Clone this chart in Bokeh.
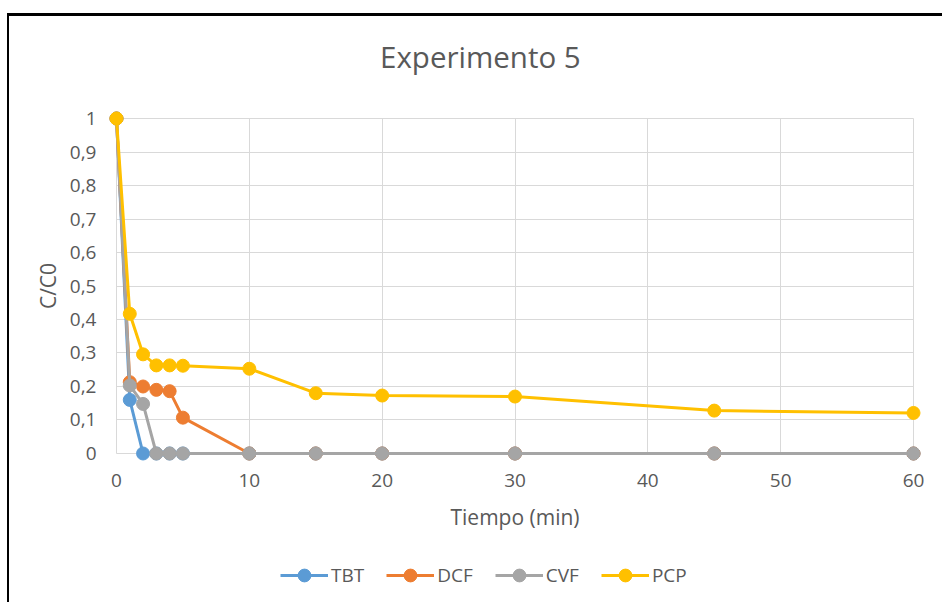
from bokeh.plotting import figure
from bokeh.models import Range1d, FixedTicker, Legend, LegendItem, Div
from bokeh.layouts import column
from bokeh.embed import file_html
from bokeh.resources import INLINE

# ---- data ----
tiempo = [0, 1, 2, 3, 4, 5, 10, 15, 20, 30, 45, 60]
tbt = [1, 0.16, 0, 0, 0, 0, 0, 0, 0, 0, 0, 0]
dcf = [1, 0.213, 0.20, 0.19, 0.186, 0.107, 0, 0, 0, 0, 0, 0]
cvf = [1, 0.203, 0.148, 0, 0, 0, 0, 0, 0, 0, 0, 0]
pcp = [1, 0.417, 0.296, 0.263, 0.263, 0.262, 0.253, 0.18, 0.173, 0.17, 0.128, 0.121]

series_names = ["TBT", "DCF", "CVF", "PCP"]
series_values = [tbt, dcf, cvf, pcp]
series_colors = ["#5B9BD5", "#ED7D31", "#A5A5A5", "#FFC000"]

x_ticks = [0, 10, 20, 30, 40, 50, 60]
x_tick_labels = ["0", "10", "20", "30", "40", "50", "60"]
y_ticks = [0, 0.1, 0.2, 0.3, 0.4, 0.5, 0.6, 0.7, 0.8, 0.9, 1.0]
y_tick_labels = ["0", "0,1", "0,2", "0,3", "0,4", "0,5", "0,6", "0,7", "0,8", "0,9", "1"]

title_text = "Experimento 5"
FONT = "Open Sans"
TXT = "#595959"
GRID = "#D9D9D9"

# ---- title ----
title_div = Div(
    text=('<div style="position:relative; left:371px; top:26px; white-space:nowrap; '
          'font-family:\'Open Sans\'; font-size:29.5px; line-height:1; color:%s;">%s</div>'
          % (TXT, title_text)),
    width=933, height=60, margin=(0, 0, 0, 0),
)

# ---- main plot ----
p = figure(
    width=933, height=470,
    x_range=Range1d(-0.602, 60.602), y_range=Range1d(-0.0239, 1.0239),
    output_backend="svg", toolbar_location=None,
    min_border_left=99, min_border_right=21, min_border_top=34, min_border_bottom=85,
)
p.outline_line_color = None
p.background_fill_color = "white"
p.border_fill_color = "white"

p.xaxis.ticker = FixedTicker(ticks=x_ticks)
p.yaxis.ticker = FixedTicker(ticks=y_ticks)
p.xaxis.major_label_overrides = {t: l for t, l in zip(x_ticks, x_tick_labels)}
p.yaxis.major_label_overrides = {t: l for t, l in zip(y_ticks, y_tick_labels)}
for ax in (p.xaxis, p.yaxis):
    ax.axis_line_color = None
    ax.major_tick_line_color = None
    ax.minor_tick_line_color = None
    ax.major_label_text_font = FONT
    ax.major_label_text_font_size = "19px"
    ax.major_label_text_color = TXT
    ax.axis_label_text_font = FONT
    ax.axis_label_text_font_size = "21px"
    ax.axis_label_text_font_style = "normal"
    ax.axis_label_text_color = TXT
p.xaxis.axis_label = "Tiempo (min)"
p.yaxis.axis_label = "C/C0"
p.xaxis.major_label_standoff = 6
p.yaxis.major_label_standoff = 6
p.xaxis.axis_label_standoff = 13
p.yaxis.axis_label_standoff = 5

p.xgrid.ticker = FixedTicker(ticks=x_ticks)
p.ygrid.ticker = FixedTicker(ticks=y_ticks)
p.xgrid.grid_line_color = GRID
p.ygrid.grid_line_color = GRID
p.xgrid.grid_line_width = 1
p.ygrid.grid_line_width = 1
p.xgrid.cross_bounds = (0, 1)
p.ygrid.cross_bounds = (0, 60)

for name, vals, col in zip(series_names, series_values, series_colors):
    p.line(tiempo, vals, line_color=col, line_width=3)
    p.scatter(tiempo, vals, size=13, fill_color=col, line_color=col)

# ---- legend strip (its renderers hold the series but lie outside its view) ----
pl = figure(
    width=933, height=56,
    x_range=Range1d(-3, -2), y_range=Range1d(0, 1),
    x_axis_type=None, y_axis_type=None,
    output_backend="svg", toolbar_location=None, min_border=0,
)
pl.outline_line_color = None
pl.border_fill_color = "white"
pl.background_fill_color = "white"
pl.grid.visible = False

items = []
for name, vals, col in zip(series_names, series_values, series_colors):
    lr = pl.line(tiempo, vals, line_color=col, line_width=3)
    sr = pl.scatter(tiempo, vals, size=13, fill_color=col, line_color=col)
    items.append(LegendItem(label=name, renderers=[lr, sr]))

legend = Legend(items=items, orientation="horizontal", location=(172, 11))
legend.label_text_font = FONT
legend.label_text_font_size = "19px"
legend.label_text_color = TXT
legend.glyph_width = 48
legend.glyph_height = 32
legend.label_standoff = 3
legend.spacing = 22
legend.border_line_color = None
legend.background_fill_alpha = 0
legend.margin = 0
legend.padding = 2
pl.add_layout(legend)

layout = column(title_div, p, pl, spacing=0)
layout.styles = {"margin-left": "7px", "margin-top": "13px",
                 "border-left": "2px solid black", "border-top": "3px solid black"}

open("out.html", "w").write(file_html(layout, INLINE))
